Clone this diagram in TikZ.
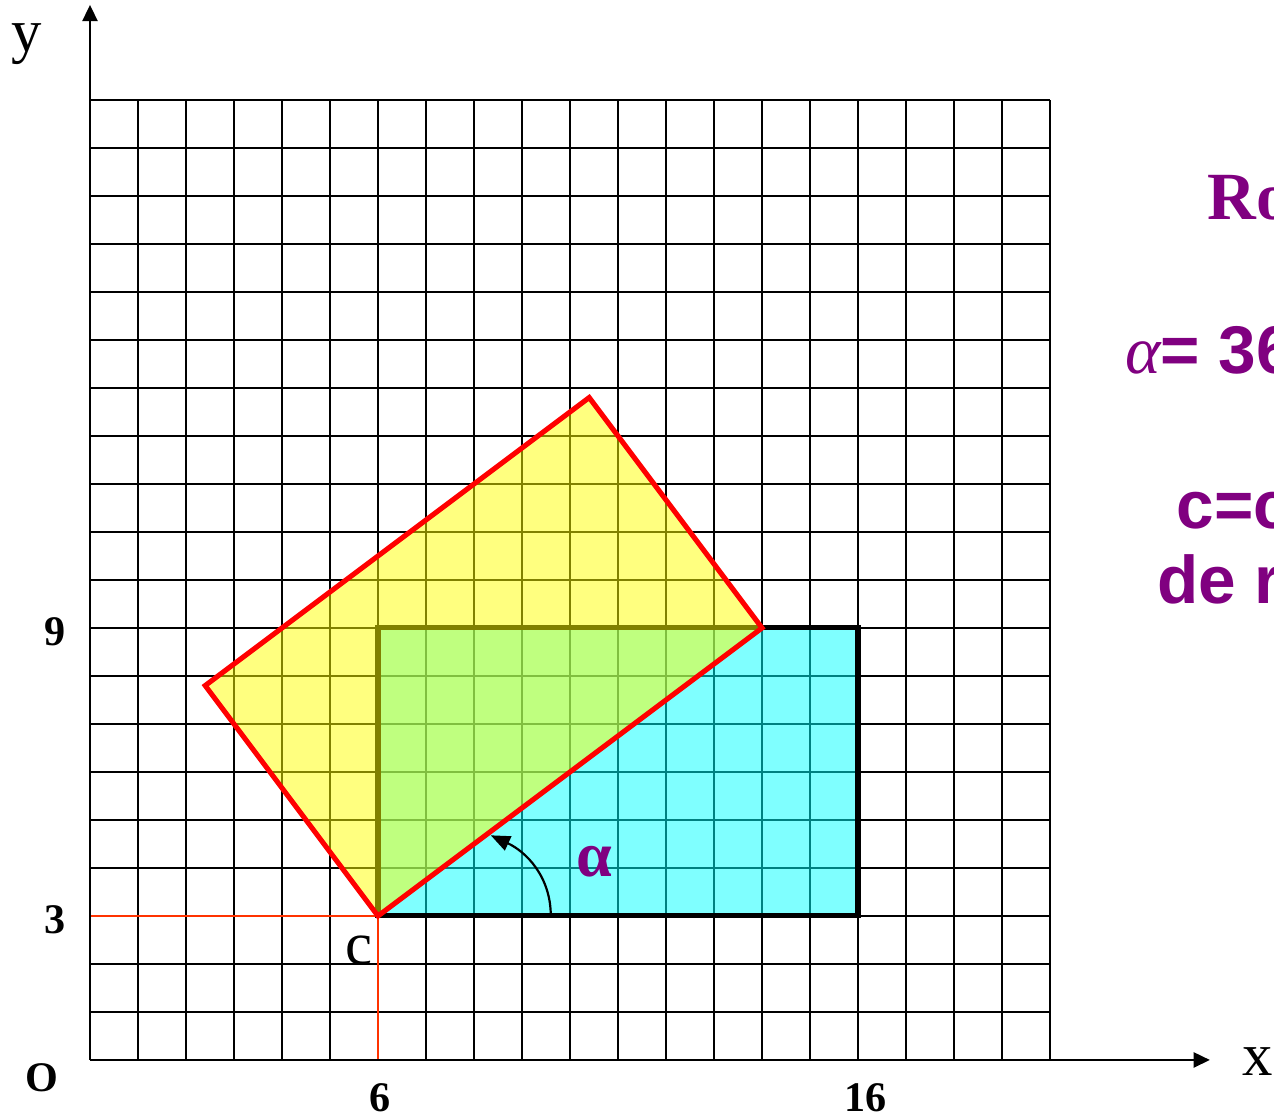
\documentclass[tikz,border=0pt]{standalone}
\usepackage{fontspec}
\setmainfont{Liberation Serif}
\setsansfont{Liberation Sans}
\usetikzlibrary{arrows.meta}
\definecolor{RTPurple}{HTML}{800080}
\definecolor{RTRed}{HTML}{FF0000}
\definecolor{RTGuide}{HTML}{FF3300}
\definecolor{RTCyan}{HTML}{00FFFF}
\definecolor{RTYellow}{HTML}{FFFF00}
\tikzset{
  gridline/.style={black,line width=1.2pt},
  axis/.style={-{Triangle[length=3.4mm,width=3.2mm]},black,line width=1pt},
  guide/.style={RTGuide,line width=1.1pt},
  boxcyan/.style={fill=RTCyan,fill opacity=.5,draw=black,draw opacity=1,line width=3pt},
  boxyellow/.style={fill=RTYellow,fill opacity=.5},
  boxred/.style={draw=RTRed,line width=3pt,line join=miter},
  angarrow/.style={-{Triangle[length=4mm,width=3.2mm]},black,line width=1.3pt},
  axlabel/.style={font=\fontsize{36}{40}\selectfont,inner sep=0pt},
  ticklabel/.style={font=\fontsize{25}{28}\selectfont\bfseries,inner sep=0pt},
  anglabel/.style={text=RTPurple,font=\fontsize{38}{42}\selectfont\bfseries,inner sep=0pt},
  infotext/.style={text=RTPurple,font=\fontsize{40}{46}\selectfont\bfseries\sffamily,
                   inner sep=0pt,anchor=base west},
}
\begin{document}
\begin{tikzpicture}
  \clip (-1.875,-1.229) rectangle (24.667,22.083);

  % points
  \coordinate (O) at (0,0);
  \coordinate (c) at (6,3);
  \coordinate (q) at (16,9);
  \coordinate (ra) at (14,9);
  \coordinate (rb) at (10.4,13.8);
  \coordinate (rd) at (2.4,7.8);
  \coordinate (xend) at (23.33,0);
  \coordinate (yend) at (0,21.98);
  \coordinate (cx0) at (0,3);
  \coordinate (cy0) at (6,0);
  \coordinate (arcstart) at (9.6,3);
  \coordinate (arcend) at (8.35,4.68);

  \draw[gridline] (0,0) grid (20,20);
  \draw[guide] (cx0) -- (c) -- (cy0);
  \draw[axis] (O) -- (xend);
  \draw[axis] (O) -- (yend);

  \draw[boxcyan] (c) rectangle (q);
  \fill[boxyellow] (c) -- (ra) -- (rb) -- (rd) -- cycle;
  \draw[boxred] (c) -- (ra) -- (rb) -- (rd) -- cycle;

  \draw[angarrow] (arcstart) to[out=90,in=-25] (arcend);
  \node[anglabel] (alpha) at (10.5,4.12) {α};

  % axis labels
  \node[axlabel] (ylab) at (-1.31,21.17) {y};
  \node[axlabel] (xlab) at (24.33,-0.04) {x};
  \node[axlabel] (clab) at (5.6,2.29) {c};
  \node[ticklabel] (olab) at (-1.0,-0.375) {O};
  \node[ticklabel] (lab9) at (-0.73,8.92) {9};
  \node[ticklabel] (lab3) at (-0.73,2.92) {3};
  \node[ticklabel] (lab6) at (6.04,-0.79) {6};
  \node[ticklabel] (lab16) at (16.15,-0.79) {16};

  % text on the right
  \node[infotext] (title) at (23.27,17.5) {\rmfamily Rotation};
  \node[infotext] (angle) at (21.56,14.31) {{\rmfamily\mdseries\itshape α}= 36.87°};
  \node[infotext] (centre) at (22.63,11.08) {c=centre};
  \node[infotext] (centre2) at (22.23,9.52) {de rotation};
\end{tikzpicture}
\end{document}
